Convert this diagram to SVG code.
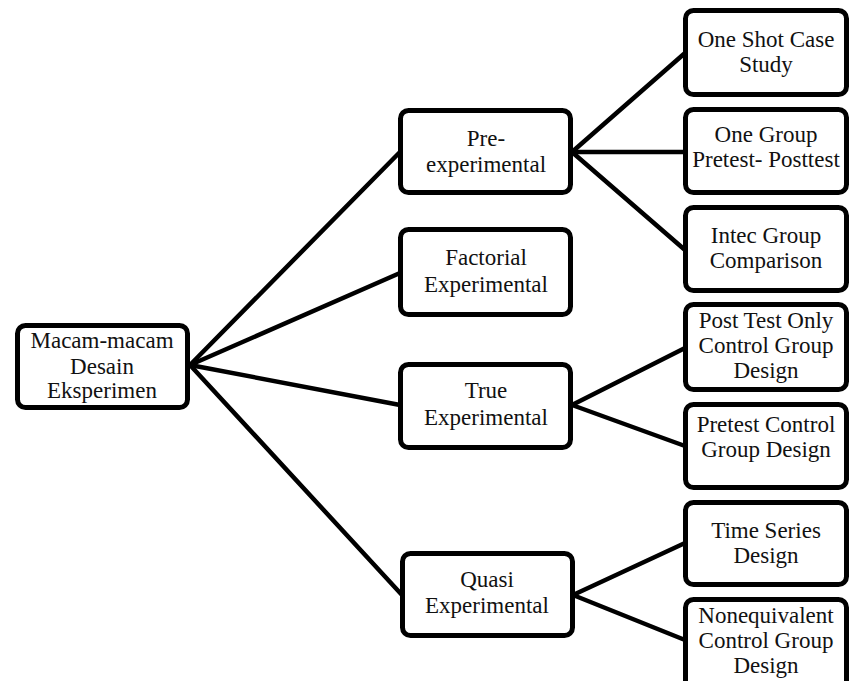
<svg xmlns="http://www.w3.org/2000/svg" width="851" height="681" viewBox="0 0 851 681">
<style>
.box{fill:#fff;stroke:#000;stroke-width:5}
.ln{stroke:#000;stroke-width:4.5;fill:none;stroke-linecap:round}
</style>
<rect width="851" height="681" fill="#fff"/>
<g id="connectors">
<line class="ln" x1="190" y1="365" x2="400" y2="152"/>
<line class="ln" x1="190" y1="365" x2="400" y2="273"/>
<line class="ln" x1="190" y1="365" x2="400" y2="405"/>
<line class="ln" x1="190" y1="365" x2="402" y2="595"/>
<line class="ln" x1="572" y1="152" x2="685" y2="53"/>
<line class="ln" x1="572" y1="152" x2="685" y2="152"/>
<line class="ln" x1="572" y1="152" x2="685" y2="250"/>
<line class="ln" x1="572" y1="405" x2="685" y2="348"/>
<line class="ln" x1="572" y1="405" x2="685" y2="446"/>
<line class="ln" x1="573" y1="595" x2="685" y2="543"/>
<line class="ln" x1="573" y1="595" x2="685" y2="640"/>
</g>
<g font-family="Liberation Serif" font-size="23" fill="#111" text-anchor="middle">
<g id="root">
<rect class="box" x="17.5" y="325.5" width="170" height="82" rx="8"/>
<text x="102" y="348">Macam-macam</text>
<text x="102" y="374">Desain</text>
<text x="102" y="398">Eksperimen</text>
</g>
<g id="pre">
<rect class="box" x="400.5" y="110.5" width="170" height="82" rx="8"/>
<text x="486" y="146">Pre-</text>
<text x="486" y="172">experimental</text>
</g>
<g id="factorial">
<rect class="box" x="400.5" y="229.5" width="170" height="85" rx="8"/>
<text x="486" y="265">Factorial</text>
<text x="486" y="292">Experimental</text>
</g>
<g id="true">
<rect class="box" x="400.5" y="364.5" width="170" height="83" rx="8"/>
<text x="486" y="398">True</text>
<text x="486" y="425">Experimental</text>
</g>
<g id="quasi">
<rect class="box" x="402.5" y="553.5" width="170" height="82" rx="8"/>
<text x="487" y="587">Quasi</text>
<text x="487" y="613">Experimental</text>
</g>
<g id="oneshot">
<rect class="box" x="685.5" y="10.5" width="161" height="84" rx="8"/>
<text x="766" y="47">One Shot Case</text>
<text x="766" y="72">Study</text>
</g>
<g id="onegroup">
<rect class="box" x="685.5" y="109.5" width="161" height="83" rx="8"/>
<text x="766" y="142">One Group</text>
<text x="766" y="167">Pretest- Posttest</text>
</g>
<g id="intec">
<rect class="box" x="685.5" y="207.5" width="161" height="83" rx="8"/>
<text x="766" y="243">Intec Group</text>
<text x="766" y="268">Comparison</text>
</g>
<g id="posttest">
<rect class="box" x="685.5" y="304.5" width="161" height="85" rx="8"/>
<text x="766" y="328">Post Test Only</text>
<text x="766" y="353">Control Group</text>
<text x="766" y="378">Design</text>
</g>
<g id="pretestcontrol">
<rect class="box" x="685.5" y="404.5" width="161" height="83" rx="8"/>
<text x="766" y="432">Pretest Control</text>
<text x="766" y="457">Group Design</text>
</g>
<g id="timeseries">
<rect class="box" x="685.5" y="502.5" width="161" height="82" rx="8"/>
<text x="766" y="538">Time Series</text>
<text x="766" y="563">Design</text>
</g>
<g id="nonequivalent">
<rect class="box" x="685.5" y="599.5" width="161" height="95" rx="8"/>
<text x="766" y="623">Nonequivalent</text>
<text x="766" y="648">Control Group</text>
<text x="766" y="673">Design</text>
</g>
</g>
</svg>
